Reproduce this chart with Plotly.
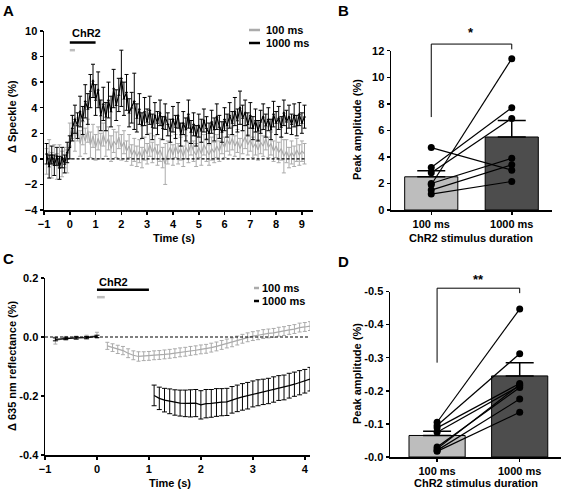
import plotly.graph_objects as go

W, H = 563, 493
FONT = "Liberation Sans, Arial, sans-serif"
LIGHT = "#bdbdbd"
DARK = "#4d4d4d"
GRAYLINE = "#ababab"

# ---------------- Panel A data ----------------
a_time = [round(-0.9 + 0.1 * i, 1) for i in range(101)]
a_1000 = [0.4, -0.6, 0.3, -0.5, 0.2, -0.7, 0.1, -0.4, 0.5, 0.9,
          2.4, 3.1, 2.6, 3.7, 3.0, 4.5, 3.9, 5.3, 6.1, 4.6,
          5.4, 3.4, 4.3, 3.3, 4.6, 3.7, 5.5, 4.2, 5.0, 6.3,
          4.7, 5.2, 3.6, 4.0, 4.5, 3.2, 3.9, 2.6, 3.7, 2.9,
          3.8, 2.5, 3.4, 2.8, 3.6, 2.4, 3.3, 2.7, 2.2, 3.1,
          2.5, 3.4, 1.9, 2.8, 2.3, 3.5, 2.1, 2.7, 1.8, 2.6,
          2.2, 3.0, 2.4, 2.0, 2.9, 2.3, 3.3, 2.5, 2.1, 3.1,
          2.6, 3.4, 2.8, 3.7, 3.0, 4.0, 3.2, 3.6, 2.7, 3.4,
          2.4, 3.0, 2.2, 2.9, 3.3, 2.6, 3.1, 2.3, 3.5, 2.8,
          3.2, 2.5, 3.6, 2.9, 3.3, 2.7, 3.4, 2.6, 3.5, 2.8, 3.3]
a_1000_err = [0.8, 0.9, 0.7, 0.8, 0.7, 0.9, 0.8, 0.7, 0.8, 0.9,
              1.0, 1.1, 1.0, 1.2, 1.1, 1.3, 1.2, 1.3, 1.3, 1.2,
              1.4, 1.2, 1.3, 1.1, 1.4, 1.2, 1.5, 1.2, 1.3, 2.2,
              1.3, 1.4, 1.1, 1.2, 2.2, 1.1, 1.2, 1.0, 1.1, 1.0,
              1.1, 1.0, 1.0, 0.9, 1.0, 0.9, 1.0, 0.9, 0.9, 1.0,
              0.9, 1.0, 0.9, 0.9, 0.9, 1.1, 0.9, 0.9, 0.8, 0.9,
              0.9, 0.9, 0.9, 0.8, 0.9, 0.9, 1.0, 0.9, 0.8, 0.9,
              0.9, 1.0, 0.9, 1.1, 0.9, 1.3, 1.0, 1.0, 0.9, 1.0,
              0.9, 0.9, 0.8, 0.9, 1.0, 0.9, 0.9, 0.8, 1.0, 0.9,
              0.9, 0.8, 1.0, 0.9, 0.9, 0.8, 0.9, 0.8, 0.9, 0.8, 0.9]
a_100 = [-0.2, 0.6, -0.5, 0.3, -0.6, 0.2, -0.4, 0.1, -0.2, 1.9,
         2.5, 1.6, 2.3, 1.2, 2.0, 1.4, 2.2, 1.1, 1.8, 0.9,
         1.6, 1.0, 1.9, 1.2, 1.6, 0.8, 1.4, 1.1, 1.7, 0.9,
         1.3, 0.6, 1.0, 0.3, 0.7, 0.2, 0.6, 0.1, 0.8, 0.4,
         1.1, 0.5, 0.9, 0.3, 0.7, 0.1, -0.4, 0.5, 0.9, 0.3,
         1.0, 0.4, 0.8, 0.2, 0.9, 0.5, 1.2, 0.6, 0.3, 0.9,
         0.4, 1.1, 0.7, 0.3, 0.8, 0.5, 1.0, 0.6, 1.3, 0.9,
         1.5, 1.1, 1.6, 1.0, 1.4, 0.8, 1.3, 1.7, 1.1, 1.5,
         0.9, 1.2, 0.7, 1.3, 1.0, 1.6, 0.9, 1.2, 0.6, 1.0,
         0.5, 0.8, 0.2, 0.6, 0.1, 0.5, 0.2, 0.7, 0.3, 0.6, 0.4]
a_100_err = [1.0, 0.9, 1.0, 0.8, 1.0, 0.9, 1.0, 0.8, 0.9, 0.9,
             0.9, 1.0, 0.9, 1.0, 0.9, 1.0, 0.9, 1.0, 0.9, 1.0,
             0.9, 1.0, 0.9, 1.0, 0.9, 1.0, 0.9, 1.0, 0.9, 1.0,
             0.9, 0.8, 0.9, 0.8, 0.9, 0.8, 0.9, 0.8, 0.9, 0.8,
             0.9, 0.8, 0.9, 0.8, 0.9, 0.8, 1.6, 0.9, 0.9, 0.8,
             0.9, 0.8, 0.9, 0.8, 0.9, 0.8, 0.9, 0.8, 0.9, 0.8,
             0.9, 0.8, 0.9, 0.8, 0.9, 0.8, 0.9, 0.8, 0.9, 0.8,
             0.9, 0.8, 0.9, 0.8, 0.9, 0.8, 0.9, 0.9, 0.8, 0.9,
             0.8, 0.9, 0.8, 0.9, 0.8, 0.9, 0.8, 0.9, 0.8, 0.9,
             0.8, 0.9, 1.3, 0.9, 0.8, 0.9, 0.8, 0.9, 0.8, 0.8, 0.8]

# ---------------- Panel B data ----------------
b_labels = ["100 ms", "1000 ms"]
b_means = [2.5, 5.5]
b_sem = [0.45, 1.25]
b_100 = [4.7, 3.2, 2.8, 1.9, 2.0, 1.5, 1.2]
b_1000 = [3.0, 7.7, 6.9, 11.4, 3.9, 3.4, 2.15]

# ---------------- Panel C data ----------------
c_100_time = [-0.8, -0.6, -0.4, -0.2, 0.0, None,
              0.2, 0.3, 0.4, 0.5, 0.6, 0.7, 0.8, 0.9, 1.0, 1.1,
              1.2, 1.3, 1.4, 1.5, 1.6, 1.7, 1.8, 1.9, 2.0, 2.1,
              2.2, 2.3, 2.4, 2.5, 2.6, 2.7, 2.8, 2.9, 3.0, 3.1,
              3.2, 3.3, 3.4, 3.5, 3.6, 3.7, 3.8, 3.9, 4.0, 4.1]
c_100 = [-0.012, -0.004, -0.002, 0.0, 0.006, None,
         -0.030, -0.036, -0.042, -0.046, -0.055, -0.062, -0.066, -0.065, -0.064, -0.062,
         -0.061, -0.059, -0.057, -0.055, -0.052, -0.050, -0.047, -0.045, -0.042, -0.040,
         -0.036, -0.032, -0.027, -0.022, -0.018, -0.012, -0.006, -0.001, 0.003, 0.006,
         0.010, 0.012, 0.014, 0.018, 0.020, 0.024, 0.027, 0.032, 0.034, 0.037]
c_100_err = [0.012, 0.006, 0.005, 0.006, 0.010, None,
             0.012, 0.013, 0.014, 0.014, 0.015, 0.015, 0.016, 0.015, 0.015, 0.015,
             0.015, 0.015, 0.015, 0.015, 0.015, 0.015, 0.015, 0.015, 0.015, 0.015,
             0.015, 0.015, 0.015, 0.015, 0.015, 0.015, 0.015, 0.015, 0.015, 0.015,
             0.015, 0.015, 0.015, 0.015, 0.015, 0.015, 0.015, 0.015, 0.015, 0.015]
c_1000_time = [-0.8, -0.6, -0.4, -0.2, 0.0, None,
               1.1, 1.2, 1.3, 1.4, 1.5, 1.6, 1.7, 1.8, 1.9, 2.0,
               2.1, 2.2, 2.3, 2.4, 2.5, 2.6, 2.7, 2.8, 2.9, 3.0,
               3.1, 3.2, 3.3, 3.4, 3.5, 3.6, 3.7, 3.8, 3.9, 4.0, 4.1]
c_1000 = [-0.008, -0.005, -0.003, -0.002, 0.002, None,
          -0.198, -0.208, -0.214, -0.218, -0.222, -0.224, -0.225, -0.225, -0.224, -0.230,
          -0.226, -0.225, -0.222, -0.221, -0.220, -0.213, -0.208, -0.203, -0.199, -0.193,
          -0.189, -0.186, -0.183, -0.178, -0.173, -0.171, -0.165, -0.160, -0.155, -0.150, -0.143]
c_1000_err = [0.005, 0.004, 0.004, 0.004, 0.004, None,
              0.035, 0.038, 0.040, 0.042, 0.043, 0.044, 0.045, 0.046, 0.046, 0.048,
              0.048, 0.047, 0.047, 0.046, 0.046, 0.045, 0.045, 0.045, 0.045, 0.044,
              0.044, 0.043, 0.043, 0.043, 0.042, 0.042, 0.042, 0.041, 0.041, 0.040, 0.040]

# ---------------- Panel D data ----------------
d_labels = ["100 ms", "1000 ms"]
d_means = [-0.065, -0.245]
d_sem = [0.013, 0.040]
d_100 = [-0.105, -0.095, -0.088, -0.075, -0.030, -0.025, -0.020, -0.017]
d_1000 = [-0.447, -0.312, -0.222, -0.215, -0.210, -0.218, -0.175, -0.135]


def px(x):
    return x / W


def py(y):
    return 1 - y / H


# axis geometry (pixels)
A_X = (44, 313); A_Y = (210, 31); A_XR = [-1, 9.43]; A_YR = [-4, 10]
B_X = (391, 552); B_Y = (210, 50.7); B_XR = [-0.5, 1.5]; B_YR = [0, 12]
C_X = (45, 310); C_Y = (455, 278); C_XR = [-1, 4.1]; C_YR = [-0.4, 0.2]
D_X = (390, 561); D_Y = (457, 291.5); D_XR = [-0.57, 1.5]; D_YR = [0, -0.5]


def to_paper(v, rng, dom):
    return dom[0] + (v - rng[0]) / (rng[1] - rng[0]) * (dom[1] - dom[0])


fig = go.Figure()

err_style = dict(thickness=1, width=2)

# Panel A traces
fig.add_trace(go.Scatter(x=a_time, y=a_100, mode="lines", line=dict(color=GRAYLINE, width=1.2),
                         error_y=dict(type="data", array=a_100_err, color=GRAYLINE, **err_style),
                         xaxis="x", yaxis="y", showlegend=False))
fig.add_trace(go.Scatter(x=a_time, y=a_1000, mode="lines+markers", line=dict(color="black", width=1.2),
                         marker=dict(symbol="triangle-up", size=3, color="black"),
                         error_y=dict(type="data", array=a_1000_err, color="black", **err_style),
                         xaxis="x", yaxis="y", showlegend=False))

# Panel B traces
fig.add_trace(go.Bar(x=[0, 1], y=b_means, width=0.66, marker=dict(color=[LIGHT, DARK], line=dict(color="black", width=1)),
                     error_y=dict(type="data", array=b_sem, arrayminus=[0, 0], symmetric=False,
                                  color="black", thickness=1.5, width=14),
                     xaxis="x2", yaxis="y2", showlegend=False))
for v0, v1 in zip(b_100, b_1000):
    fig.add_trace(go.Scatter(x=[0, 1], y=[v0, v1], mode="lines+markers", line=dict(color="black", width=1.2),
                             marker=dict(color="black", size=7), xaxis="x2", yaxis="y2", showlegend=False))

# Panel C traces
fig.add_trace(go.Scatter(x=c_100_time, y=c_100, mode="lines", line=dict(color=GRAYLINE, width=1.2),
                         error_y=dict(type="data", array=c_100_err, color=GRAYLINE, **err_style),
                         xaxis="x3", yaxis="y3", showlegend=False, connectgaps=False))
fig.add_trace(go.Scatter(x=c_1000_time, y=c_1000, mode="lines", line=dict(color="black", width=1.2),
                         error_y=dict(type="data", array=c_1000_err, color="black", thickness=1, width=2.5),
                         xaxis="x3", yaxis="y3", showlegend=False, connectgaps=False))

# Panel D traces
fig.add_trace(go.Bar(x=[0, 1], y=d_means, width=0.68, marker=dict(color=[LIGHT, DARK], line=dict(color="black", width=1)),
                     error_y=dict(type="data", array=[0, 0], arrayminus=d_sem, symmetric=False,
                                  color="black", thickness=1.5, width=14),
                     xaxis="x4", yaxis="y4", showlegend=False))
for v0, v1 in zip(d_100, d_1000):
    fig.add_trace(go.Scatter(x=[0, 1], y=[v0, v1], mode="lines+markers", line=dict(color="black", width=1.2),
                             marker=dict(color="black", size=7), xaxis="x4", yaxis="y4", showlegend=False))

tickfont = dict(family=FONT, size=11, color="black", weight="bold")
axbase = dict(showgrid=False, zeroline=False, showline=True, linecolor="black", linewidth=1.5,
              ticks="outside", ticklen=3, tickwidth=1.5, tickcolor="black", tickfont=tickfont,
              automargin=False)

fig.update_layout(
    width=W, height=H, autosize=False, hovermode=False,
    margin=dict(l=0, r=0, t=0, b=0, pad=0, autoexpand=False),
    paper_bgcolor="white", plot_bgcolor="rgba(0,0,0,0)",
    xaxis=dict(domain=[px(A_X[0]), px(A_X[1])], range=A_XR, tickvals=list(range(-1, 10)), anchor="y", **axbase),
    yaxis=dict(domain=[py(A_Y[0]), py(A_Y[1])], range=A_YR, tickvals=list(range(-4, 11, 2)), anchor="x", **axbase),
    xaxis2=dict(domain=[px(B_X[0]), px(B_X[1])], range=B_XR, tickvals=[0, 1], ticktext=b_labels, anchor="y2", **axbase),
    yaxis2=dict(domain=[py(B_Y[0]), py(B_Y[1])], range=B_YR, tickvals=list(range(0, 13, 2)), anchor="x2", **axbase),
    xaxis3=dict(domain=[px(C_X[0]), px(C_X[1])], range=C_XR, tickvals=list(range(-1, 5)), anchor="y3", **axbase),
    yaxis3=dict(domain=[py(C_Y[0]), py(C_Y[1])], range=C_YR, tickvals=[-0.4, -0.2, 0.0, 0.2],
                ticktext=["-0.4", "-0.2", "0.0", "0.2"], anchor="x3", **axbase),
    xaxis4=dict(domain=[px(D_X[0]), px(D_X[1])], range=D_XR, tickvals=[0, 1], ticktext=d_labels, anchor="y4", **axbase),
    yaxis4=dict(domain=[py(D_Y[0]), py(D_Y[1])], range=D_YR, tickvals=[0, -0.1, -0.2, -0.3, -0.4, -0.5],
                ticktext=["-0.0", "-0.1", "-0.2", "-0.3", "-0.4", "-0.5"], anchor="x4", **axbase),
)

shapes = []
shapes.append(dict(type="line", xref="x", yref="y", x0=-0.9, x1=9.1, y0=0, y1=0,
                   line=dict(color="black", width=1.2, dash="3px,2px")))
shapes.append(dict(type="line", xref="x3", yref="y3", x0=-1, x1=4.1, y0=0, y1=0,
                   line=dict(color="black", width=1.2, dash="3px,2px")))
shapes.append(dict(type="line", xref="x", yref="y", x0=0, x1=1, y0=9.1, y1=9.1, line=dict(color="black", width=2.5)))
shapes.append(dict(type="line", xref="x", yref="y", x0=0, x1=0.2, y0=8.5, y1=8.5, line=dict(color=LIGHT, width=2.5)))
shapes.append(dict(type="line", xref="x3", yref="y3", x0=0, x1=1, y0=0.16, y1=0.16, line=dict(color="black", width=2.5)))
shapes.append(dict(type="line", xref="x3", yref="y3", x0=0, x1=0.15, y0=0.135, y1=0.135, line=dict(color=LIGHT, width=2.5)))


def bracket(xr, yr, xdom, ydom, yl, ytop, yr_end):
    xa = to_paper(0, xr, xdom); xb = to_paper(1, xr, xdom)
    ya = to_paper(yl, yr, ydom); yt = to_paper(ytop, yr, ydom); yb = to_paper(yr_end, yr, ydom)
    return dict(type="path", xref="paper", yref="paper",
                path=f"M{xa},{ya} L{xa},{yt} L{xb},{yt} L{xb},{yb}",
                line=dict(color="black", width=1))


bx = (px(B_X[0]), px(B_X[1])); by = (py(B_Y[0]), py(B_Y[1]))
dx = (px(D_X[0]), px(D_X[1])); dy = (py(D_Y[0]), py(D_Y[1]))
shapes.append(bracket(B_XR, B_YR, bx, by, 7.0, 12.5, 12.1))
shapes.append(bracket(D_XR, D_YR, dx, dy, -0.285, -0.51, -0.495))

for (x0, x1, y, col) in [(249, 260, 30, GRAYLINE), (249, 260, 43, "black"),
                         (254, 259, 288, GRAYLINE), (254, 259, 301, "black")]:
    shapes.append(dict(type="line", xref="paper", yref="paper", x0=px(x0), x1=px(x1), y0=py(y), y1=py(y),
                       line=dict(color=col, width=2.5)))

fig.update_layout(shapes=shapes)

bold = dict(family=FONT, size=11, color="black", weight="bold")
letter = dict(family=FONT, size=15, color="black", weight="bold")
ann = []


def text(x, y, s, font=bold, xanchor="center", yanchor="middle", angle=0, xref="paper", yref="paper"):
    ann.append(dict(x=x, y=y, xref=xref, yref=yref, text=s, showarrow=False, font=font,
                    xanchor=xanchor, yanchor=yanchor, textangle=angle))


text(px(8), py(10), "A", letter)
text(px(343), py(11), "B", letter)
text(px(8), py(258), "C", letter)
text(px(343), py(261), "D", letter)

text(px(174), py(238), "Time (s)")
text(px(12), py(117), "Δ Speckle (%)", angle=-90)
text(px(471), py(238), "ChR2 stimulus duration")
text(px(357), py(130), "Peak amplitude (%)", angle=-90)
text(px(170), py(483), "Time (s)")
text(px(12), py(366), "Δ 635 nm reflectance (%)", angle=-90)
text(px(476), py(483), "ChR2 stimulus duration")
text(px(357), py(374), "Peak amplitude (%)", angle=-90)

text(0, 9.85, "ChR2", xanchor="left", xref="x", yref="y")
text(0, 0.186, "ChR2", xanchor="left", xref="x3", yref="y3")

text(px(264), py(30), "100 ms", xanchor="left")
text(px(264), py(43), "1000 ms", xanchor="left")
text(px(260), py(288), "100 ms", xanchor="left")
text(px(260), py(301), "1000 ms", xanchor="left")

text(to_paper(0.5, B_XR, bx), to_paper(13.4, B_YR, by), "*", font=dict(family=FONT, size=13, color="black", weight="bold"))
text(to_paper(0.5, D_XR, dx), to_paper(-0.535, D_YR, dy), "**", font=dict(family=FONT, size=13, color="black", weight="bold"))

fig.update_layout(annotations=ann)
fig.write_html("out.html", config={"displayModeBar": False, "staticPlot": True},
               post_script="document.body.style.margin='0';document.body.style.overflow='hidden';")
